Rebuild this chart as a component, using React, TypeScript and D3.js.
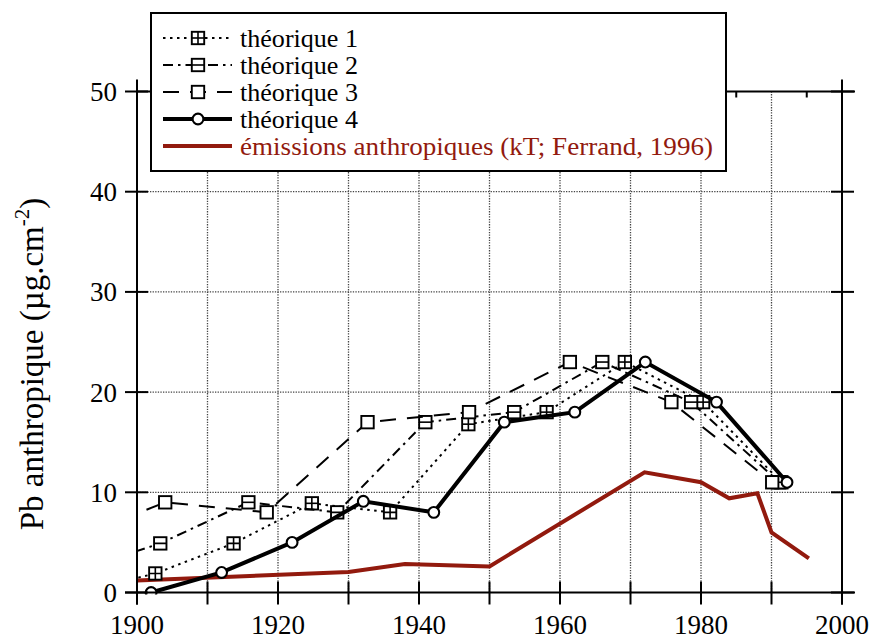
import React from 'react';
import * as d3 from 'd3';

// ---- data ----
const years1 = [1891.5, 1902.6, 1913.7, 1924.8, 1935.9, 1947.0, 1958.1, 1969.2, 1980.3, 1991.4];
const values1 = [0, 1.9, 4.9, 8.9, 8, 16.8, 18, 23, 19, 11];

const years2 = [1878.2, 1890.7, 1903.3, 1915.8, 1928.4, 1940.9, 1953.5, 1966.0, 1978.6, 1991.1];
const values2 = [0, 2, 4.9, 9, 8, 17, 18, 23, 19, 11];

const years3 = [1861.0, 1875.3, 1889.6, 1904.0, 1918.4, 1932.7, 1947.1, 1961.4, 1975.8, 1990.1];
const values3 = [0, 2, 5, 9, 8, 17, 18, 23, 19, 11];

const years4 = [1902.0, 1912.0, 1922.0, 1932.1, 1942.1, 1952.1, 1962.1, 1972.1, 1982.2, 1992.2];
const values4 = [0, 2, 5, 9.1, 8, 17, 18, 23, 19, 11];

const emissionYears = [1900, 1930, 1938, 1950, 1972, 1980, 1984, 1988, 1990, 1995.3];
const emissionValues = [1.2, 2.05, 2.85, 2.6, 12, 11, 9.4, 9.9, 6, 3.4];

const xMajorTicks = [1900, 1910, 1920, 1930, 1940, 1950, 1960, 1970, 1980, 1990, 2000];
const xLabelTicks = [1900, 1920, 1940, 1960, 1980, 2000];
const xTopMinorTicks = [1905, 1915, 1925, 1935, 1945, 1955, 1965, 1975, 1985, 1995];
const yTicks = [0, 10, 20, 30, 40, 50];

const legendLabels = [
  'théorique 1',
  'théorique 2',
  'théorique 3',
  'théorique 4',
  'émissions anthropiques (kT; Ferrand, 1996)',
];

const RED = '#921A0E';
const FONT = '"Liberation Serif", "Times New Roman", serif';

type Marker = 'cross' | 'hline' | 'square' | 'circle' | 'none';

function MarkerShape({ kind, cx, cy }: { kind: Marker; cx: number; cy: number }) {
  const s = 6.2;
  if (kind === 'circle') {
    return <circle cx={cx} cy={cy} r={5.4} fill="#fff" stroke="#000" strokeWidth={2.1} />;
  }
  if (kind === 'none') return null;
  return (
    <g>
      <rect x={cx - s} y={cy - s} width={2 * s} height={2 * s} fill="#fff" stroke="#000" strokeWidth={1.9} />
      {(kind === 'cross' || kind === 'hline') && (
        <line x1={cx - s} x2={cx + s} y1={cy} y2={cy} stroke="#000" strokeWidth={1.6} />
      )}
      {kind === 'cross' && <line x1={cx} x2={cx} y1={cy - s} y2={cy + s} stroke="#000" strokeWidth={1.6} />}
    </g>
  );
}

export default function App() {
  const W = 870;
  const H = 639;
  const x = d3.scaleLinear().domain([1900, 2000]).range([137, 842]);
  const y = d3.scaleLinear().domain([0, 50]).range([592.5, 91.5]);
  const [x0, x1] = x.range();
  const [yb, yt] = y.range();

  const line = d3
    .line<[number, number]>()
    .x((d) => x(d[0]))
    .y((d) => y(d[1]));

  const zip = (a: number[], b: number[]) => a.map((v, i) => [v, b[i]] as [number, number]);

  const series = [
    { yrs: years1, vals: values1, dash: '2.5,4.5', width: 2, marker: 'cross' as Marker },
    { yrs: years2, vals: values2, dash: '10,5,2.5,5', width: 2, marker: 'hline' as Marker },
    { yrs: years3, vals: values3, dash: '16,11', width: 2, marker: 'square' as Marker },
    { yrs: years4, vals: values4, dash: undefined, width: 4, marker: 'circle' as Marker },
  ];

  const legendRows = [38, 65, 92, 119, 146];
  const legendX0 = 163;
  const legendX1 = 232;
  const legendMarkerX = 198;
  const legendTextLen = [118, 118, 118, 118, 473];

  return (
    <svg
      width={W}
      height={H}
      viewBox={`0 0 ${W} ${H}`}
      style={{ position: 'absolute', left: 0, top: 0, background: '#fff' }}
      fontFamily={FONT}
    >
      <defs>
        <clipPath id="plotClip">
          <rect x={x0} y={yt - 2} width={x1 - x0} height={yb - yt + 4} />
        </clipPath>
      </defs>
      <rect x={0} y={0} width={W} height={H} fill="#fff" />

      {/* grid */}
      <g stroke="#444" strokeWidth={1.3} strokeDasharray="1.3,1.3">
        {xMajorTicks.slice(1, -1).map((t) => (
          <line key={'gx' + t} x1={x(t)} x2={x(t)} y1={yt} y2={yb} />
        ))}
        {yTicks.slice(1, -1).map((t) => (
          <line key={'gy' + t} x1={x0} x2={x1} y1={y(t)} y2={y(t)} />
        ))}
      </g>

      <g clipPath="url(#plotClip)">
        {/* emissions */}
        <path
          d={line(zip(emissionYears, emissionValues)) || ''}
          fill="none"
          stroke={RED}
          strokeWidth={4}
          strokeLinejoin="miter"
        />
        {series.map((s, i) => (
          <g key={'s' + i}>
            <path
              d={line(zip(s.yrs, s.vals)) || ''}
              fill="none"
              stroke="#000"
              strokeWidth={s.width}
              strokeDasharray={s.dash}
            />
            {s.yrs.map((yr, j) => (
              <MarkerShape key={j} kind={s.marker} cx={x(yr)} cy={y(s.vals[j])} />
            ))}
          </g>
        ))}
      </g>

      {/* axes */}
      <g stroke="#000" strokeWidth={2}>
        <line x1={x0 - 12} x2={x1 + 13} y1={yb} y2={yb} />
        <line x1={x0} x2={x1 + 13} y1={yt} y2={yt} />
        <line x1={x0} x2={x0} y1={yt - 12} y2={yb + 12} />
        <line x1={x1} x2={x1} y1={yt - 12} y2={yb + 12} />
        {xMajorTicks.map((t) => (
          <line key={'bt' + t} x1={x(t)} x2={x(t)} y1={yb - 11} y2={yb + 12} />
        ))}
        {xTopMinorTicks.map((t) => (
          <line key={'tt' + t} x1={x(t)} x2={x(t)} y1={yt} y2={yt + 6} />
        ))}
        {yTicks.map((t) => (
          <line key={'lt' + t} x1={x0 - 12} x2={x0 + 11} y1={y(t)} y2={y(t)} />
        ))}
        {yTicks.map((t) => (
          <line key={'rt' + t} x1={x1 - 11} x2={x1 + 12} y1={y(t)} y2={y(t)} />
        ))}
      </g>

      {/* tick labels */}
      <g fontSize={27} fill="#000">
        {yTicks.map((t) => (
          <text key={'yl' + t} x={117} y={y(t)} dy="0.35em" textAnchor="end">
            {t}
          </text>
        ))}
        {xLabelTicks.map((t) => (
          <text key={'xl' + t} x={x(t)} y={634} textAnchor="middle">
            {t}
          </text>
        ))}
      </g>

      {/* y axis title */}
      <text transform="translate(43,364) rotate(-90)" textAnchor="middle" fontSize={33} fill="#000">
        Pb anthropique (µg.cm
        <tspan fontSize={21} dy={-14}>
          -2
        </tspan>
        <tspan dy={14}>)</tspan>
      </text>

      {/* legend */}
      <g>
        <rect x={151} y={13} width={575} height={158} fill="#fff" stroke="#000" strokeWidth={2} />
        {series.map((s, i) => (
          <g key={'lg' + i}>
            <line
              x1={legendX0}
              x2={legendX1}
              y1={legendRows[i]}
              y2={legendRows[i]}
              stroke="#000"
              strokeWidth={s.width}
              strokeDasharray={s.dash}
            />
            <MarkerShape kind={s.marker} cx={legendMarkerX} cy={legendRows[i]} />
            <text
              x={240}
              y={legendRows[i] + 8.5}
              fontSize={24.3}
              fill="#000"
              textLength={legendTextLen[i]}
              lengthAdjust="spacingAndGlyphs"
            >
              {legendLabels[i]}
            </text>
          </g>
        ))}
        <line x1={legendX0} x2={legendX1} y1={legendRows[4]} y2={legendRows[4]} stroke={RED} strokeWidth={4} />
        <text
          x={240}
          y={legendRows[4] + 8.5}
          fontSize={24.3}
          fill={RED}
          textLength={legendTextLen[4]}
          lengthAdjust="spacingAndGlyphs"
        >
          {legendLabels[4]}
        </text>
      </g>
    </svg>
  );
}
